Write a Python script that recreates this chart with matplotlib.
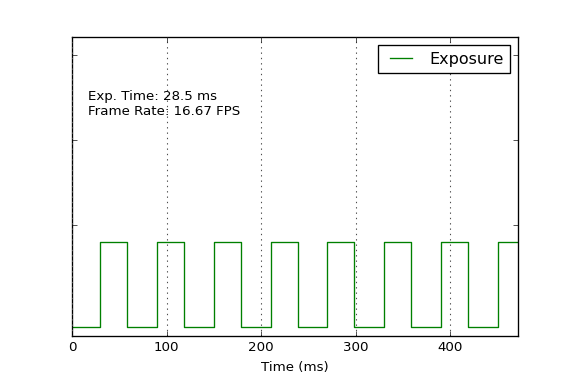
import matplotlib
matplotlib.use('Agg')
import matplotlib.pyplot as plt

# frame timing (ms)
rise_times = [30, 90, 150, 210, 270, 330, 390, 450]
fall_times = [58.5, 118.5, 178.5, 238.5, 298.5, 358.5, 418.5, 478.5]
t_end = 472
low, high = 0, 1

# build the square wave from the edges
t = [0]
v = [low]
for r, f in zip(rise_times, fall_times):
    t += [r, r, f, f]
    v += [low, high, high, low]
t.append(t_end + 10)
v.append(low)

plt.style.use('classic')
fig = plt.figure(figsize=(6, 4), dpi=96, facecolor='white')
ax = fig.add_axes([0.125, 0.125, 0.775, 0.778])

ax.plot(t, v, 'g-', linewidth=1, label='Exposure')
ax.set_xlim(0, t_end)
ax.set_ylim(-0.1, 3.41)
ax.set_xticks([0, 100, 200, 300, 400])
ax.set_yticks([1.2, 2.2, 3.2])
ax.set_yticklabels([])
ax.tick_params(labelsize=10)
ax.xaxis.grid(True, color='0.3', linestyle=':', linewidth=0.8)
ax.set_xlabel('Time (ms)', fontsize=10)

# baseline of the last line sits at this height
ax.text(0.036, 0.74, 'Exp. Time: 28.5 ms\nFrame Rate: 16.67 FPS',
        transform=ax.transAxes, fontsize=10, va='baseline', ha='left')
ax.legend(loc='upper right', fontsize=12, borderaxespad=0.5)

fig.savefig('out.png', dpi=96, facecolor='white')
